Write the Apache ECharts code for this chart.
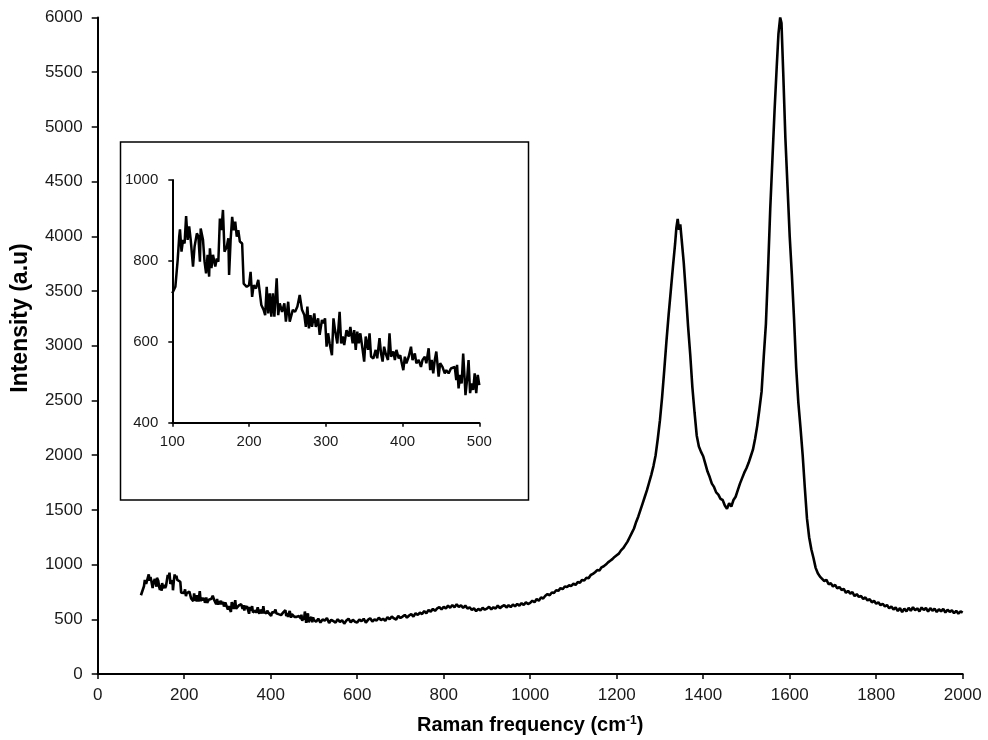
<!DOCTYPE html>
<html>
<head>
<meta charset="utf-8">
<script src="https://cdn.jsdelivr.net/npm/echarts@6/dist/echarts.min.js"></script>
<style>html,body{margin:0;padding:0;background:#fff}#chart{width:988px;height:740px}</style>
</head>
<body>
<div id="chart"></div>
<script>
// Raman spectrum, low-frequency region (also shown in inset)
const lowShift = [100,104,107,109,110,112,114,116,118,120,122,124,127,129,132,134,136,137,140,142,144,146,148,149,151,153,156,158,160,162,164,166,168,171,173,174,176,178,180,182,184,186,188,191,193,197,200,202,204,206,209,212,214,216,219,221,223,225,227,229,231,233,236,238,240,243,246,248,251,253,257,260,263,266,269,272,274,276,278,280,282,285,287,290,292,295,297,299,301,303,305,308,310,312,315,318,320,322,324,327,330,332,335,337,339,341,343,345,348,350,352,355,357,359,362,365,367,370,372,374,376,378,381,383,385,388,390,392,395,397,399,401,403,405,408,411,413,416,418,421,424,426,429,431,434,436,438,440,442,444,447,449,452,455,457,460,463,465,468,470,471,473,475,477,479,481,482,484,486,488,490,492,494,496,498,500];
const lowIntensity = [720,736,802,860,878,823,852,843,911,852,885,852,786,835,868,860,798,880,852,798,769,815,761,831,782,815,786,806,798,905,876,926,823,835,856,765,852,909,876,897,860,876,848,843,744,736,740,773,711,740,732,753,749,691,679,666,736,670,720,662,720,662,757,666,695,674,695,650,699,650,679,674,687,716,679,666,637,687,633,666,637,670,637,658,617,654,646,658,588,621,596,567,658,629,596,674,596,613,592,629,613,637,596,629,580,625,596,621,580,551,613,580,621,563,559,580,559,609,571,551,588,571,555,621,563,576,555,580,559,567,547,530,563,547,563,588,555,571,547,555,538,555,563,547,584,530,555,522,555,576,514,547,538,522,530,522,534,530,538,505,543,485,518,497,571,505,468,505,555,473,497,481,522,473,518,493];
// Raman spectrum, 505 - 2000 cm-1
const highShift = [505,510,515,520,525,530,535,540,545,550,555,560,565,570,575,580,585,590,595,600,605,610,615,620,625,630,635,640,645,650,655,660,665,670,675,680,685,690,695,700,705,710,715,720,725,730,735,740,745,750,755,760,765,770,775,780,785,790,795,800,805,810,815,820,825,830,835,840,845,850,855,860,865,870,875,880,885,890,895,900,905,910,915,920,925,930,935,940,945,950,955,960,965,970,975,980,985,990,995,1000,1005,1010,1015,1020,1025,1030,1035,1040,1045,1050,1055,1060,1065,1070,1075,1080,1085,1090,1095,1100,1105,1110,1115,1120,1125,1130,1135,1140,1145,1150,1155,1160,1165,1170,1175,1180,1185,1190,1195,1200,1205,1210,1215,1220,1225,1230,1235,1240,1245,1250,1255,1260,1265,1270,1275,1280,1285,1290,1295,1300,1305,1310,1315,1320,1325,1330,1335,1338,1341,1344,1347,1350,1355,1360,1365,1370,1375,1380,1385,1390,1395,1400,1405,1410,1415,1420,1425,1430,1435,1440,1445,1450,1455,1460,1465,1470,1475,1480,1485,1490,1495,1500,1505,1510,1515,1520,1525,1530,1535,1540,1545,1550,1555,1560,1565,1570,1574,1578,1581,1585,1590,1595,1600,1605,1610,1615,1620,1625,1630,1635,1640,1645,1650,1655,1660,1665,1670,1675,1680,1685,1690,1695,1700,1705,1710,1715,1720,1725,1730,1735,1740,1745,1750,1755,1760,1765,1770,1775,1780,1785,1790,1795,1800,1805,1810,1815,1820,1825,1830,1835,1840,1845,1850,1855,1860,1865,1870,1875,1880,1885,1890,1895,1900,1905,1910,1915,1920,1925,1930,1935,1940,1945,1950,1955,1960,1965,1970,1975,1980,1985,1990,1995,2000];
const highIntensity = [
  478,505,470,498,488,512,466,495,483,470,
  500,476,492,460,488,505,472,495,478,470,
  498,482,505,470,495,510,480,500,488,515,
  492,505,485,520,500,525,508,498,530,512,
  525,540,515,535,548,525,555,540,560,548,
  575,555,585,570,595,578,600,612,590,615,
  598,625,605,630,610,638,612,628,605,625,
  598,610,585,600,575,595,582,605,588,598,
  615,590,610,598,625,602,618,630,608,628,
  612,635,618,640,625,648,630,655,640,650,
  670,655,685,670,700,690,715,730,720,745,
  740,765,760,785,775,800,795,810,805,825,
  815,840,835,860,855,880,875,905,915,930,
  950,945,975,985,1000,1020,1035,1050,1070,1085,
  1100,1130,1150,1180,1210,1250,1290,1330,1390,1440,
  1500,1560,1620,1680,1750,1820,1900,2000,2150,2320,
  2530,2780,3040,3280,3500,3720,3930,
  4080,4160,4060,4110,
  3980,3760,3480,3180,2920,2620,2390,2180,2080,2030,
  1990,1920,1850,1800,1740,1710,1660,1640,1600,1590,
  1540,1510,1560,1530,1590,1620,1680,1740,1790,1840,
  1880,1930,1990,2050,2150,2270,2420,2580,2900,3200,
  3700,4250,4700,5150,5550,
  5850,6000,5950,
  5500,4900,4450,4000,3650,3250,2800,2480,2250,2000,
  1700,1420,1250,1140,1060,970,920,890,870,850,
  860,820,830,
  800,815,782,795,768,778,742,760,735,748,
  712,730,705,712,685,700,672,684,655,668,
  642,655,628,642,618,630,600,618,590,608,
  575,602,565,598,572,605,578,610,582,600,
  572,608,585,603,570,602,578,598,566,592,
  572,595,562,588,568,582,555,578,552,572,
  560];

const mainTicksX = {min: 0, max: 2000, interval: 200};
const mainTicksY = {min: 0, max: 6000, interval: 500};
const insetTicksX = {min: 100, max: 500, interval: 100};
const insetTicksY = {min: 400, max: 1000, interval: 200};

const allData = lowShift.map((x, i) => [x, lowIntensity[i]])
  .concat(highShift.map((x, i) => [x, highIntensity[i]]));
const insetData = lowShift.map((x, i) => [x, lowIntensity[i]]);

const FONT = '"Liberation Sans", Arial, sans-serif';
const axisCommon = (fs, margin, tickLen) => ({
  axisLine: {show: true, onZero: false, lineStyle: {color: '#000', width: 2}},
  axisTick: {show: true, length: tickLen, lineStyle: {color: '#000', width: 1.5}},
  splitLine: {show: false},
  axisLabel: {fontSize: fs, color: '#1a1a1a', margin: margin, fontFamily: FONT,
    formatter: v => String(v)}
});

const chart = echarts.init(document.getElementById('chart'), null, {renderer: 'canvas'});
chart.setOption({
  animation: false,
  backgroundColor: '#fff',
  grid: [
    {left: 97.7, right: 25.3, top: 17.5, bottom: 63.3},
    {left: 172.3, top: 180, width: 307, height: 242.7}
  ],
  graphic: [{
    type: 'rect', z: 0,
    shape: {x: 120.5, y: 142, width: 408, height: 358},
    style: {fill: '#fff', stroke: '#000', lineWidth: 1.5}
  }, {
    type: 'text', x: 21, y: 318, rotation: Math.PI / 2, z: 10,
    style: {text: 'Intensity (a.u)', fontSize: 23, fontWeight: 'bold', fontFamily: FONT,
      fill: '#000', align: 'center', verticalAlign: 'middle'}
  }],
  xAxis: [
    Object.assign({type: 'value', gridIndex: 0}, mainTicksX, axisCommon(17, 13, 5), {
      name: 'Raman frequency (cm{sup|-1})',
      nameLocation: 'middle', nameGap: 41,
      nameTextStyle: {fontSize: 20, fontWeight: 'bold', color: '#000', fontFamily: FONT,
        rich: {sup: {fontSize: 12, fontWeight: 'bold', color: '#000', fontFamily: FONT, verticalAlign: 'top', padding: [0, 0, 8, 0]}}}
    }),
    Object.assign({type: 'value', gridIndex: 1}, insetTicksX, axisCommon(15, 12, 4))
  ],
  yAxis: [
    Object.assign({type: 'value', gridIndex: 0}, mainTicksY, axisCommon(17, 15, 6)),
    Object.assign({type: 'value', gridIndex: 1}, insetTicksY, axisCommon(15, 14, 4))
  ],
  series: [
    {type: 'line', xAxisIndex: 0, yAxisIndex: 0, data: allData, showSymbol: false,
     lineStyle: {color: '#000', width: 2.6}, z: 3},
    {type: 'line', xAxisIndex: 1, yAxisIndex: 1, data: insetData, showSymbol: false,
     lineStyle: {color: '#000', width: 2.5}, z: 3}
  ]
});
</script>
</body>
</html>
